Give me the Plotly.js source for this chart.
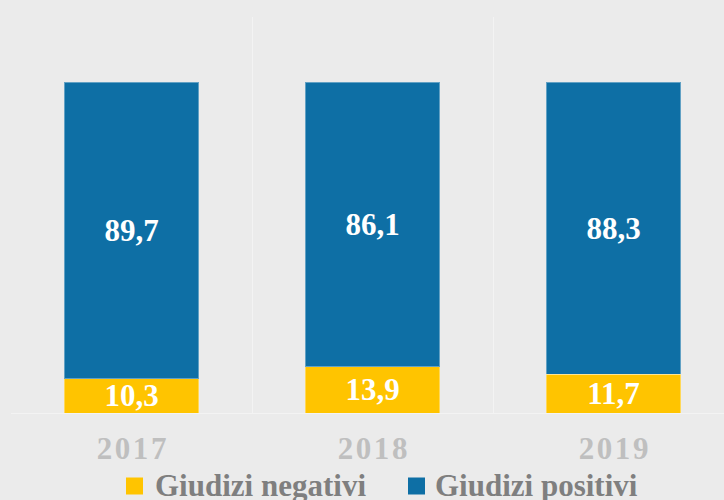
<!DOCTYPE html>
<html>
<head>
<meta charset="utf-8">
<script src="https://cdn.plot.ly/plotly-3.0.1.min.js"></script>
<style>
html,body{margin:0;padding:0;background:#ebebeb;}
#chart{width:724px;height:500px;}
</style>
</head>
<body>
<div id="chart"></div>
<script>
const years = ['2017', '2018', '2019'];
const negativi = [10.3, 13.9, 11.7];
const positivi = [89.7, 86.1, 88.3];
const seriesNames = ['Giudizi negativi', 'Giudizi positivi'];
const colors = ['#ffc400', '#0e6fa5'];

const L = 11, T = 17, W = 713, H = 396;
const px = x => (x - L) / W;
const py = y => (T + H - y) / H;

const serif = 'Liberation Serif, Times New Roman, serif';
const fmt = v => v.toFixed(1).replace('.', ',');
const spaced = s => s.split('').join('\u200A');

const common = {
  type: 'bar',
  x: years,
  textposition: 'inside',
  insidetextanchor: 'middle',
  constraintext: 'none',
  textangle: 0,
  textfont: {family: serif, size: 31, color: '#ffffff', weight: 'bold'},
  hoverinfo: 'skip',
  showlegend: false
};

const traces = [
  Object.assign({}, common, {
    name: seriesNames[0], y: negativi, text: negativi.map(fmt),
    marker: {color: colors[0], line: {color: 'rgba(255,255,255,0.35)', width: 1}}
  }),
  Object.assign({}, common, {
    name: seriesNames[1], y: positivi, text: positivi.map(fmt),
    marker: {color: colors[1], line: {color: 'rgba(255,255,255,0.35)', width: 1}}
  })
];

const legendItems = [
  {sq: 126, tx: 153},
  {sq: 408, tx: 433}
];
const shapes = [], annotations = [];
legendItems.forEach((it, i) => {
  shapes.push({type: 'rect', xref: 'paper', yref: 'paper',
    x0: px(it.sq), x1: px(it.sq + 17), y0: py(494.5), y1: py(477.5),
    fillcolor: colors[i], line: {width: 0}});
  annotations.push({xref: 'paper', yref: 'paper', x: px(it.tx), y: py(486),
    xanchor: 'left', yanchor: 'middle', showarrow: false,
    text: seriesNames[i],
    font: {family: serif, size: 31, color: '#7f7f7f', weight: 'bold'}});
});

const layout = {
  width: 724, height: 500,
  margin: {l: L, r: 0, t: T, b: 500 - T - H, pad: 0},
  paper_bgcolor: '#ebebeb',
  plot_bgcolor: '#ebebeb',
  barmode: 'stack',
  bargap: 0.44,
  separators: ',.',
  showlegend: false,
  xaxis: {
    type: 'category',
    range: [-0.5, -0.5 + W / 241],
    tickson: 'boundaries',
    tickmode: 'array',
    tickvals: years,
    ticktext: years.map(spaced),
    showgrid: true, gridcolor: '#f3f3f3', gridwidth: 1,
    ticks: '', showline: false, zeroline: false,
    tickfont: {family: serif, size: 31, color: '#bfbfbf', weight: 'bold'},
    ticklabelstandoff: 14,
    fixedrange: true
  },
  yaxis: {
    range: [0, 100 * H / 331],
    showgrid: false, showticklabels: false, ticks: '',
    zeroline: true, zerolinecolor: '#f3f3f3', zerolinewidth: 1,
    showline: false, fixedrange: true
  },
  shapes: shapes,
  annotations: annotations
};

Plotly.newPlot('chart', traces, layout, {displayModeBar: false, staticPlot: true});
</script>
</body>
</html>
